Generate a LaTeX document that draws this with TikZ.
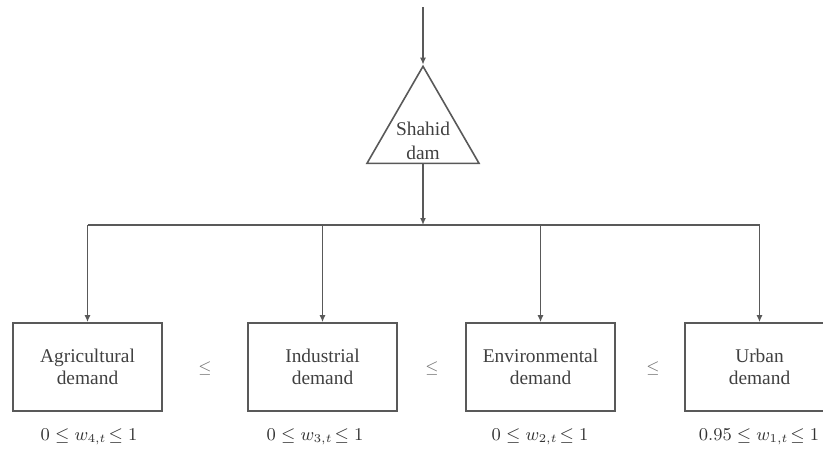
\documentclass[tikz,border=0pt]{standalone}
\usepackage{fontspec}
\setmainfont{Liberation Serif}
\usetikzlibrary{shapes.geometric, positioning, arrows.meta}

\begin{document}
\begin{tikzpicture}[
  x=0.5pt, y=-0.5pt,
  line/.style={draw=black!65, line width=0.8pt},
  arr/.style={line, -{Latex[length=3.5pt,width=3pt]}},
  demand/.style={line, rectangle, minimum width=74.5pt, minimum height=44pt,
    align=center, text=black!75, font=\fontsize{9.7}{11}\selectfont},
  dam/.style={line, regular polygon, regular polygon sides=3, minimum size=64.7pt,
    inner sep=0pt},
  damtext/.style={yshift=-5pt, align=center, text=black!75,
    font=\fontsize{9.7}{12}\selectfont},
  order/.style={text=black!55, font=\footnotesize},
  weight/.style={text=black!80, font=\fontsize{9}{11}\selectfont},
]
\path[use as bounding box, clip] (0,0) rectangle (823,452);

\node[dam, label={[damtext]center:Shahid\\dam}] (shahid) at (423,131) {};
\coordinate (inflow) at (423,7);
\coordinate (bus) at (423,225);

\node[demand] (agri)  at (87.5,367)  {Agricultural\\demand};
\node[demand] (ind)   at (322.5,367) {Industrial\\demand};
\node[demand] (env)   at (540.5,367) {Environmental\\demand};
\node[demand] (urban) at (759.5,367) {Urban\\demand};

\node[order] at (205,368) {$\leq$};
\node[order] at (432,368) {$\leq$};
\node[order] at (653,368) {$\leq$};

\node[weight] (wagri)  at (89,437)  {$0 \leq w_{4,t}\!\leq 1$};
\node[weight] (wind)   at (315,437) {$0 \leq w_{3,t}\!\leq 1$};
\node[weight] (wenv)   at (540,437) {$0 \leq w_{2,t}\!\leq 1$};
\node[weight] (wurban) at (759,437) {$0.95 \leq w_{1,t}\!\leq 1$};

\draw[arr] (inflow) -- (shahid.north);
\draw[arr] (shahid.south) -- (bus);
\draw[line] (agri.north |- bus) -- (urban.north |- bus);
\foreach \d in {agri, ind, env, urban}
  \draw[arr] (\d.north |- bus) -- (\d.north);
\end{tikzpicture}
\end{document}
